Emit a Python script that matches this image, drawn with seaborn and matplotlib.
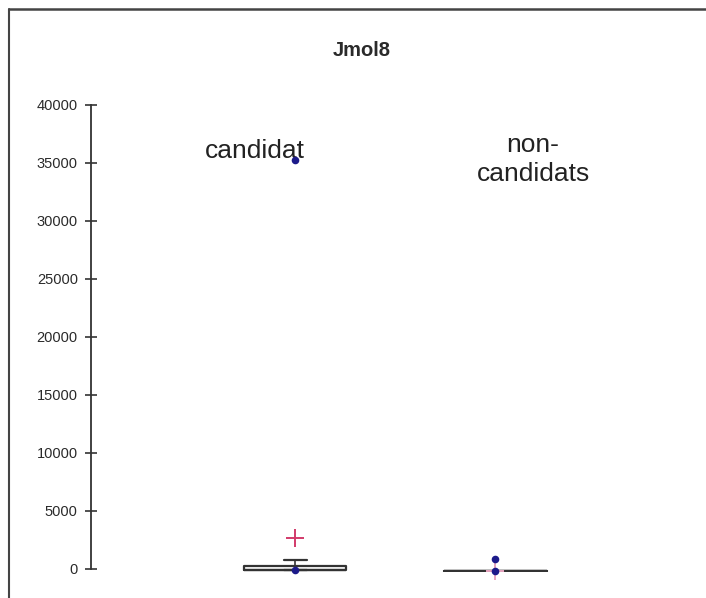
import matplotlib
matplotlib.use("Agg")
import matplotlib.pyplot as plt
import seaborn as sns
import pandas as pd
from matplotlib.lines import Line2D

# ---- data ----
groups = ["candidat", "non-\ncandidats"]
q1 = [-100, -200]
q3 = [300, -200]
medians = [-50, -200]
whislo = [-100, -200]
whishi = [750, 850]
means = [2650, -150]
cap_widths = [0.115, 0.0]
point_group = [0, 0, 1, 1]
point_value = [35300, -50, 850, -200]
yticks = [0, 5000, 10000, 15000, 20000, 25000, 30000, 35000, 40000]

sns.set_theme(style="white")
plt.rcParams['font.family'] = ['Liberation Sans', 'DejaVu Sans']

W, H = 706, 598
fig = plt.figure(figsize=(W / 100, H / 100), dpi=100)
ax_left, ax_right = 91 / W, 700 / W
y0_px, y40_px = 569, 105
ppu = (y0_px - y40_px) / 40000.0
ymin = -300
bottom_px = y0_px + (-ymin) * ppu
ax = fig.add_axes([ax_left, (H - bottom_px) / H, ax_right - ax_left, (bottom_px - y40_px) / H])

stats = []
for i in range(len(groups)):
    stats.append(dict(med=medians[i], q1=q1[i], q3=q3[i], whislo=whislo[i],
                      whishi=whishi[i], mean=means[i], fliers=[], label=groups[i]))

ax.bxp(stats, positions=[0, 1], widths=[0.51, 0.515], capwidths=cap_widths,
       showmeans=False, showfliers=False, manage_ticks=False,
       boxprops=dict(color="#333333", linewidth=1.6),
       whiskerprops=dict(color="#333333", linewidth=1.2),
       capprops=dict(color="#333333", linewidth=1.6),
       medianprops=dict(color="#333333", linewidth=1.6))

pts = pd.DataFrame({"x": point_group, "y": point_value})
sns.scatterplot(data=pts, x="x", y="y", ax=ax, color="#1c1a8a", s=30,
                edgecolor="#1c1a8a", linewidth=0, zorder=5, clip_on=False)
mdf = pd.DataFrame({"x": list(range(len(groups))), "y": means, "g": groups})
sns.scatterplot(data=mdf, x="x", y="y", hue="g", ax=ax, marker="+",
                palette=["#d23a6a", "#e8a6c0"], s=160, linewidth=1.4,
                zorder=4, clip_on=False, legend=False)

ax.set_xlim(-(295 - 91) / 200.0, (700 - 295) / 200.0)
ax.set_ylim(ymin, 40000)
ax.set_yticks(yticks)
ax.set_yticklabels([str(v) for v in yticks], fontsize=10.5, color="#2a2a2a")
ax.set_xticks([])
ax.set_xlabel("")
ax.set_ylabel("")
for s in ["top", "right", "bottom"]:
    ax.spines[s].set_visible(False)
ax.spines["left"].set_bounds(0, 40000)
ax.spines["left"].set_color("#333333")
ax.spines["left"].set_linewidth(1.3)
ax.tick_params(axis="y", direction="inout", length=9, width=1.2, color="#333333",
               pad=5, left=True)

# group labels
ax.text(-0.2, 36000, groups[0], ha="center", va="center", fontsize=19, color="#222222")
ax.text(1.19, 35300, groups[1], ha="center", va="center", fontsize=19, color="#222222",
        multialignment="center", linespacing=1.3)

fig.text(362 / W, 1 - 50 / H, "Jmol8", ha="center", va="center", fontsize=14.5,
         fontweight="bold", color="#2a2a2a")

# chart frame (top and left)
fig.add_artist(Line2D([9 / W, 1.0], [1 - 9 / H, 1 - 9 / H], transform=fig.transFigure,
                      color="#444444", linewidth=1.8))
fig.add_artist(Line2D([9 / W, 9 / W], [1 - 9 / H, 0], transform=fig.transFigure,
                      color="#444444", linewidth=1.5))

fig.savefig("out.png", dpi=100)
